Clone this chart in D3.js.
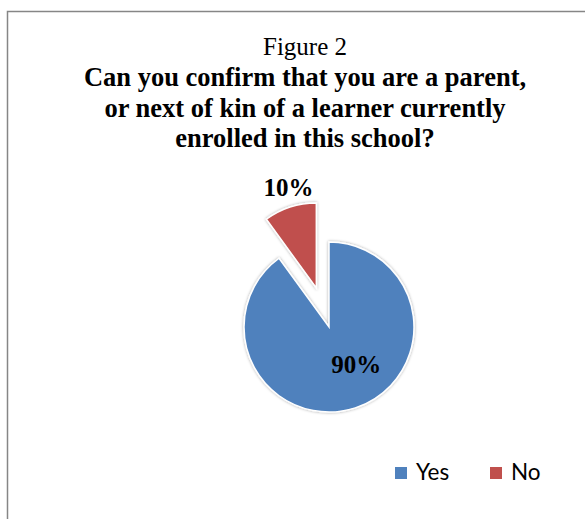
<!DOCTYPE html>
<html>
<head>
<meta charset="utf-8">
<script src="https://cdn.jsdelivr.net/npm/d3@7"></script>
<style>
  html, body { margin: 0; padding: 0; background: #fff; }
  svg { display: block; }
</style>
</head>
<body>
<svg id="chart" width="585" height="519"></svg>
<script>
// ---- Data ----
const categories = ["Yes", "No"];
const values = [90, 10];
const valueLabels = ["90%", "10%"];
const titleLines = [
  "Can you confirm that you are a parent,",
  "or next of kin of a learner currently",
  "enrolled in this school?"
];
const figureLabel = "Figure 2";

// ---- Layout ----
const W = 585, H = 519;
const cx = 329, cy = 327, R = 85;
const explodeDist = [0, 41];
const colors = d3.scaleOrdinal().domain(categories).range(["#4F81BD", "#C0504D"]);

const svg = d3.select("#chart");

const defs = svg.append("defs");
const f = defs.append("filter").attr("id", "shadow").attr("x", "-20%").attr("y", "-20%").attr("width", "140%").attr("height", "140%");
f.append("feDropShadow").attr("dx", 0).attr("dy", 0).attr("stdDeviation", 1.6)
  .attr("flood-color", "#000").attr("flood-opacity", 0.35);

// Border (chart area frame, extends beyond right/bottom)
svg.append("rect")
  .attr("x", 7.5).attr("y", 11.5).attr("width", 600).attr("height", 540)
  .attr("fill", "none").attr("stroke", "#868686").attr("stroke-width", 1.5);

// Titles
svg.append("text")
  .attr("x", 305).attr("y", 55)
  .attr("text-anchor", "middle")
  .attr("font-family", "'Liberation Serif', 'Times New Roman', serif")
  .attr("font-size", 25)
  .attr("fill", "#000")
  .text(figureLabel);

const titleBaselines = [86, 117, 147];
svg.append("g").selectAll("text").data(titleLines).join("text")
  .attr("x", 305)
  .attr("y", (d, i) => titleBaselines[i])
  .attr("text-anchor", "middle")
  .attr("font-family", "'Liberation Serif', 'Times New Roman', serif")
  .attr("font-weight", "bold")
  .attr("font-size", 26.5)
  .attr("fill", "#000")
  .text(d => d);

// Pie
const data = categories.map((c, i) => ({ cat: c, value: values[i], label: valueLabels[i], i }));
const pie = d3.pie().value(d => d.value).sort(null).startAngle(0).endAngle(2 * Math.PI);
const arcs = pie(data);
const arc = d3.arc().innerRadius(0).outerRadius(R);

function offset(d, dist) {
  const a = (d.startAngle + d.endAngle) / 2;
  return [Math.sin(a) * dist, -Math.cos(a) * dist];
}

const g = svg.append("g").attr("transform", `translate(${cx},${cy})`);
g.selectAll("path.slice").data(arcs).join("path")
  .attr("class", "slice")
  .attr("d", arc)
  .attr("transform", d => { const o = offset(d, explodeDist[d.data.i]); return `translate(${o[0]},${o[1]})`; })
  .attr("fill", d => colors(d.data.cat))
  .attr("stroke", "#fff")
  .attr("stroke-width", 1.5)
  .attr("filter", "url(#shadow)");

// Data labels
const labelPos = [
  d => { const c = d3.arc().innerRadius(0).outerRadius(R).centroid(d); return [c[0] + 14, c[1] - 3]; },
  d => { const o = offset(d, explodeDist[d.data.i]); const p = offset(d, 106); return [o[0] + p[0] + 5, o[1] + p[1]]; }
];
g.selectAll("text.lbl").data(arcs).join("text")
  .attr("class", "lbl")
  .attr("x", d => labelPos[d.data.i](d)[0])
  .attr("y", d => labelPos[d.data.i](d)[1])
  .attr("dy", "0.35em")
  .attr("text-anchor", "middle")
  .attr("font-family", "'Liberation Serif', 'Times New Roman', serif")
  .attr("font-weight", "bold")
  .attr("font-size", 25)
  .attr("fill", "#000")
  .text(d => d.data.label);

// Legend
const legendX = [395, 490];
const lg = svg.append("g");
const items = lg.selectAll("g").data(categories).join("g")
  .attr("transform", (d, i) => `translate(${legendX[i]},467)`);
items.append("rect")
  .attr("width", 12).attr("height", 12)
  .attr("fill", d => colors(d));
items.append("text")
  .attr("x", 21).attr("y", 12.5)
  .attr("font-family", "Lato, 'Open Sans', sans-serif")
  .attr("font-size", 22.5)
  .attr("fill", "#000")
  .text(d => d);
</script>
</body>
</html>
